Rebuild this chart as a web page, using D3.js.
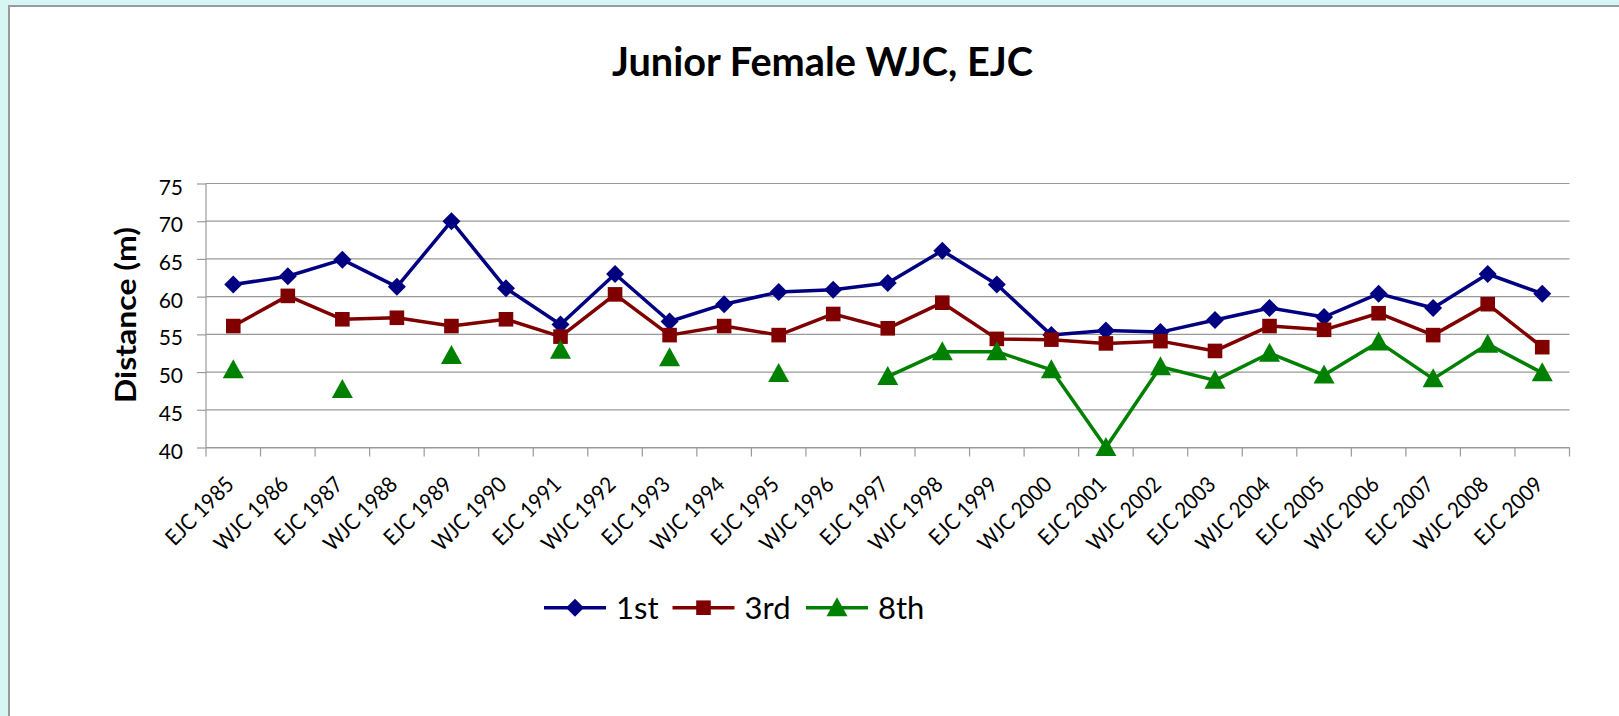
<!DOCTYPE html>
<html lang="en">
	<head>
		<meta charset="utf-8">
		<title>Junior Female WJC, EJC</title>
		<script type="text/javascript" src="https://d3js.org/d3.v7.min.js"></script>
		<style type="text/css">
            body{margin:0;background-color:#d6f5f3;font-family:Lato, "Open Sans", sans-serif;}
            #chart1{position:absolute;left:0;top:0;}
		</style>
	</head>
	<body>
    <div id="chart1"></div>
		<script type="text/javascript">

            // data
            var categories = ["EJC 1985","WJC 1986","EJC 1987","WJC 1988","EJC 1989","WJC 1990","EJC 1991","WJC 1992","EJC 1993","WJC 1994","EJC 1995","WJC 1996","EJC 1997","WJC 1998","EJC 1999","WJC 2000","EJC 2001","WJC 2002","EJC 2003","WJC 2004","EJC 2005","WJC 2006","EJC 2007","WJC 2008","EJC 2009"]
            var first = [61.6, 62.7, 64.9, 61.3, 70.0, 61.1, 56.3, 63.0, 56.7, 59.0, 60.6, 60.9, 61.8, 66.1, 61.6, 54.9, 55.5, 55.3, 56.9, 58.5, 57.3, 60.4, 58.5, 63.0, 60.4]
            var third = [56.1, 60.1, 57.0, 57.2, 56.1, 57.0, 54.7, 60.3, 54.9, 56.1, 54.9, 57.7, 55.8, 59.2, 54.4, 54.3, 53.8, 54.1, 52.8, 56.1, 55.6, 57.8, 54.9, 59.0, 53.3]
            var eighth = [50.3, null, 47.7, null, 52.2, null, 52.9, null, 51.9, null, 49.8, null, 49.4, 52.7, 52.7, 50.3, 40.0, 50.7, 48.9, 52.5, 49.6, 54.0, 49.1, 53.7, 49.9]
            var seriesNames = ["1st","3rd","8th"]
            var yTicks = [40, 45, 50, 55, 60, 65, 70, 75]

            var series = [
                {name: seriesNames[0], values: first, color: "#000080", marker: "diamond"},
                {name: seriesNames[1], values: third, color: "#800000", marker: "square"},
                {name: seriesNames[2], values: eighth, color: "#008000", marker: "triangle"}
            ]

            var W = 1619
            var H = 716
            var plotLeft = 206, plotRight = 1569.5, plotTop = 183.5, plotBottom = 447.5

            var svg = d3.select("#chart1")
                        .append("svg")
                        .attr("width", W)
                        .attr("height", H)

            // page background and chart frame
            svg.append("rect").attr("width", W).attr("height", H).attr("fill", "#d6f5f3")
            svg.append("rect")
               .attr("x", 9).attr("y", 6)
               .attr("width", W + 50).attr("height", H + 50)
               .attr("fill", "white")
               .attr("stroke", "#9a9a9a")
               .attr("stroke-width", 2)

            var xScale = d3.scaleBand().domain(categories).range([plotLeft, plotRight]).padding(0)
            var yScale = d3.scaleLinear().domain([40, 75]).range([plotBottom, plotTop])
            var cx = function(i){ return xScale(categories[i]) + xScale.bandwidth() / 2 }

            // gridlines
            svg.append("g")
               .selectAll("line")
               .data(yTicks)
               .enter()
               .append("line")
               .attr("x1", plotLeft).attr("x2", plotRight)
               .attr("y1", function(d){ return yScale(d) })
               .attr("y2", function(d){ return yScale(d) })
               .attr("stroke", "#999999")
               .attr("stroke-width", 1.2)

            // y axis
            var yAxis = d3.axisLeft(yScale).tickValues(yTicks).tickSize(9).tickPadding(14)
            var gy = svg.append("g")
                        .attr("transform", "translate(" + plotLeft + ",0)")
                        .call(yAxis)
            gy.select(".domain").attr("stroke", "#999999").attr("stroke-width", 1.2).attr("d", "M0," + plotTop + "V" + plotBottom)
            gy.selectAll(".tick line").attr("stroke", "#999999").attr("stroke-width", 1.2)
            gy.selectAll(".tick text")
              .attr("dy", "0.5em")
              .style("font-family", "Lato")
              .style("font-size", "21px")
              .attr("fill", "black")

            // x axis: labels at the middle of each band, ticks between bands
            var xAxis = d3.axisBottom(xScale).tickSize(0)
            var gx = svg.append("g")
                        .attr("transform", "translate(0," + plotBottom + ")")
                        .call(xAxis)
            gx.select(".domain").attr("stroke", "#999999").attr("stroke-width", 1.2)
            gx.selectAll(".tick text")
              .attr("x", 0).attr("y", 0).attr("dy", null)
              .attr("text-anchor", "end")
              .attr("transform", "translate(2,38.5) rotate(-45)")
              .style("font-family", "Lato")
              .style("font-size", "22px")
              .attr("fill", "black")
              .each(function(){
                  // the original font is narrower, squeeze the labels a bit
                  var len = this.getComputedTextLength()
                  d3.select(this).attr("textLength", len * 0.92).attr("lengthAdjust", "spacingAndGlyphs")
              })

            gx.selectAll(".bandTick")
              .data(d3.range(categories.length + 1))
              .enter()
              .append("line")
              .attr("class", "bandTick")
              .attr("x1", function(d){ return plotLeft + d * xScale.step() })
              .attr("x2", function(d){ return plotLeft + d * xScale.step() })
              .attr("y1", 0).attr("y2", 9)
              .attr("stroke", "#999999")
              .attr("stroke-width", 1.2)

            // markers
            function markerPath(type){
                if (type == "diamond") return "M0,-9L9,0L0,9L-9,0Z"
                if (type == "square") return "M-7.3,-7.3H7.3V7.3H-7.3Z"
                return "M0,-10.5L10.5,8.5H-10.5Z"
            }

            var line = d3.line()
                         .defined(function(d){ return d != null })
                         .x(function(d, i){ return cx(i) })
                         .y(function(d){ return yScale(d) })

            series.forEach(function(s){
                // only segments between two known values are drawn
                var pairs = s.values.map(function(d, i){
                    var prev = i > 0 ? s.values[i - 1] : null
                    var next = i < s.values.length - 1 ? s.values[i + 1] : null
                    return (d != null && (prev != null || next != null)) ? d : null
                })
                svg.append("path")
                   .attr("d", line(pairs))
                   .attr("fill", "none")
                   .attr("stroke", s.color)
                   .attr("stroke-width", 3.5)
                   .attr("stroke-linejoin", "round")

                svg.append("g")
                   .selectAll("path")
                   .data(s.values.map(function(d, i){ return {v: d, i: i} }).filter(function(d){ return d.v != null }))
                   .enter()
                   .append("path")
                   .attr("d", markerPath(s.marker))
                   .attr("transform", function(d){ return "translate(" + cx(d.i) + "," + yScale(d.v) + ")" })
                   .attr("fill", s.color)
            })

            // title
            svg.append("text")
               .attr("x", 822.5)
               .attr("y", 76)
               .attr("text-anchor", "middle")
               .style("font-family", "Lato")
               .style("font-weight", "bold")
               .style("font-size", "40px")
               .attr("textLength", 421)
               .attr("lengthAdjust", "spacingAndGlyphs")
               .text("Junior Female WJC, EJC")

            svg.append("text")
               .attr("transform", "translate(136,315) rotate(-90)")
               .attr("text-anchor", "middle")
               .style("font-family", "Lato")
               .style("font-weight", "bold")
               .style("font-size", "29px")
               .attr("textLength", 176)
               .attr("lengthAdjust", "spacingAndGlyphs")
               .text("Distance (m)")

            // legend
            var legendX = [544, 672.5, 806]
            var legend = svg.append("g")
                            .selectAll("g")
                            .data(series)
                            .enter()
                            .append("g")
                            .attr("transform", function(d, i){ return "translate(" + legendX[i] + ",607.7)" })
            legend.append("line")
                  .attr("x1", 0).attr("x2", 62)
                  .attr("stroke", function(d){ return d.color })
                  .attr("stroke-width", 3.5)
            legend.append("path")
                  .attr("d", function(d){ return markerPath(d.marker) })
                  .attr("transform", "translate(31,0)")
                  .attr("fill", function(d){ return d.color })
            legend.append("text")
                  .attr("x", 72)
                  .attr("y", 11.5)
                  .style("font-family", "Lato")
                  .style("font-size", "31px")
                  .text(function(d){ return d.name })
        </script>
	</body>
</html>
